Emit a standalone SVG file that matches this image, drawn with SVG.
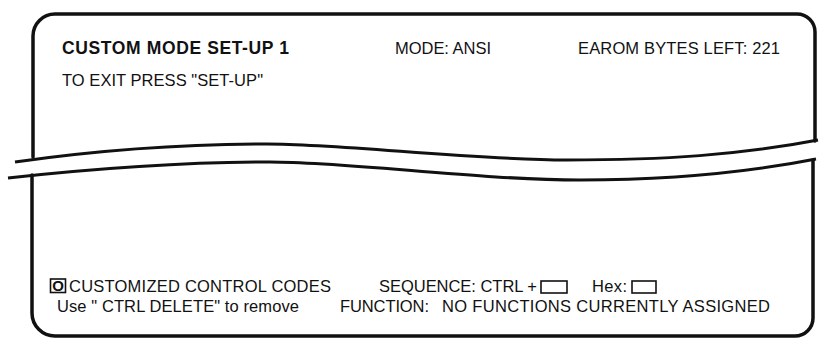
<svg xmlns="http://www.w3.org/2000/svg" width="822" height="339" viewBox="0 0 822 339">
<style>
.frame{fill:none;stroke:#111;stroke-width:3.5;stroke-linecap:round;stroke-linejoin:round}
.brk{fill:none;stroke:#111;stroke-width:3;stroke-linecap:butt}
.t{font-family:"Liberation Sans",Arial,sans-serif;font-size:16.5px;fill:#111}
.b{font-weight:bold}
.box{fill:none;stroke:#111;stroke-width:1.6}
</style>
<rect width="822" height="339" fill="#fff"/>
<g id="frame">
<path class="frame" d="M33,157 L33,36 A22,22 0 0 1 55,14 L797,14 A18,18 0 0 1 815,32 L815,141"/>
<path class="frame" d="M32,175 L32,313 A23,23 0 0 0 55,336 L795,336 A18,18 0 0 0 813,318 L813,160"/>
<path class="brk" d="M15,162 C100,150 190,144 267,144 S470,160 567,160 S740,155 818,140"/>
<path class="brk" d="M8,178 C100,168 190,162 270,162 S480,180 580,180 S760,170 816,159"/>
</g>
<g id="header">
<text class="t b" x="62" y="53.5" textLength="227" style="font-size:17.5px">CUSTOM MODE SET-UP 1</text>
<text class="t" x="395" y="53.5" textLength="96">MODE: ANSI</text>
<text class="t" x="578" y="53.5" textLength="202">EAROM BYTES LEFT: 221</text>
<text class="t" x="62" y="85.5" textLength="201">TO EXIT PRESS "SET-UP"</text>
</g>
<g id="footer">
<rect class="box" x="50.5" y="279" width="15" height="13.5"/>
<text class="t b" x="58" y="291" text-anchor="middle" style="font-size:15px">O</text>
<text class="t" x="69" y="291.5" textLength="262">CUSTOMIZED CONTROL CODES</text>
<text class="t" x="379" y="291.5" textLength="158">SEQUENCE: CTRL +</text>
<rect class="box" x="541" y="281" width="26" height="12"/>
<text class="t" x="592" y="291.5" textLength="35">Hex:</text>
<rect class="box" x="632" y="281" width="24" height="12"/>
<text class="t" x="57" y="311.5" textLength="242">Use " CTRL DELETE" to remove</text>
<text class="t" x="340" y="311.5" textLength="89">FUNCTION:</text>
<text class="t" x="442" y="311.5" textLength="328">NO FUNCTIONS CURRENTLY ASSIGNED</text>
</g>
</svg>
